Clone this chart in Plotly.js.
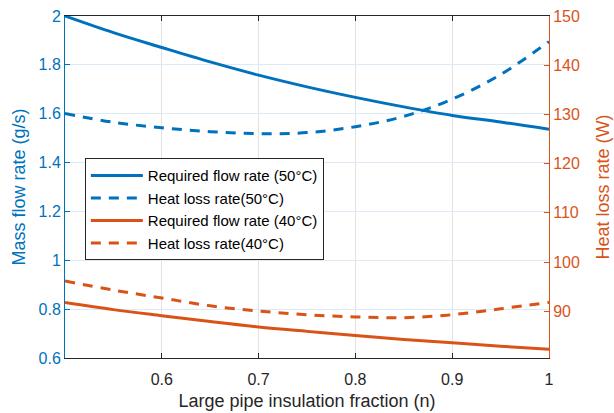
<!DOCTYPE html>
<html>
<head>
<meta charset="utf-8">
<script src="https://cdn.plot.ly/plotly-3.0.1.min.js"></script>
<style>html,body{margin:0;padding:0;background:#fff;}#chart{width:614px;height:413px;}</style>
</head>
<body>
<div id="chart"></div>
<script>
// Large pipe insulation fraction n
const fraction = [0.5, 0.55, 0.6, 0.65, 0.7, 0.75, 0.8, 0.85, 0.9, 0.95, 1.0];
// Required flow rate (g/s), left axis
const flow50 = [2.0, 1.932, 1.871, 1.812, 1.758, 1.710, 1.667, 1.628, 1.593, 1.566, 1.536];
const flow40 = [0.827, 0.798, 0.773, 0.749, 0.727, 0.709, 0.692, 0.676, 0.662, 0.648, 0.636];
// Heat loss rate (W), right axis
const heat50 = [130.2, 128.4, 127.3, 126.5, 126.1, 126.3, 127.5, 129.6, 133.1, 138.1, 144.8];
const heat40 = [96.15, 94.3, 92.7, 91.1, 90.05, 89.3, 88.85, 88.7, 89.3, 90.5, 91.8];
const seriesNames = ["Required flow rate (50°C)", "Heat loss rate(50°C)", "Required flow rate (40°C)", "Heat loss rate(40°C)"];
const xTicks = [0.6, 0.7, 0.8, 0.9, 1];
const xTickText = ["0.6", "0.7", "0.8", "0.9", "1"];
const rightTicks = [90, 100, 110, 120, 130, 140, 150];

const BLUE = "#0072BD", ORANGE = "#D95319", DARK = "#262626";
const FONT = "Liberation Sans, Arial, sans-serif";

const traces = [
  {x: fraction, y: flow50, name: seriesNames[0], yaxis: "y", mode: "lines",
   line: {color: BLUE, width: 3, shape: "spline"}},
  {x: fraction, y: heat50, name: seriesNames[1], yaxis: "y2", mode: "lines",
   line: {color: BLUE, width: 3, dash: "10px,8px", shape: "spline"}},
  {x: fraction, y: flow40, name: seriesNames[2], yaxis: "y", mode: "lines",
   line: {color: ORANGE, width: 3, shape: "spline"}},
  {x: fraction, y: heat40, name: seriesNames[3], yaxis: "y2", mode: "lines",
   line: {color: ORANGE, width: 3, dash: "10px,8px", shape: "spline"}}
];

const layout = {
  width: 614, height: 413,
  margin: {l: 65, r: 65, t: 16, b: 55},
  paper_bgcolor: "#fff", plot_bgcolor: "#fff",
  font: {family: FONT, size: 16, color: DARK},
  showlegend: true,
  legend: {x: 0.041, y: 0.584, xanchor: "left", yanchor: "top",
    bgcolor: "#fff", bordercolor: DARK, borderwidth: 1,
    font: {family: FONT, size: 15, color: "#000"}, itemwidth: 52, tracegroupgap: 0},
  xaxis: {range: [0.5, 1], tickvals: xTicks, ticktext: xTickText,
    showline: true, linecolor: DARK, linewidth: 1, mirror: "ticks",
    ticks: "inside", ticklen: 5, tickcolor: DARK, ticklabelstandoff: 7,
    showgrid: true, gridcolor: "#e2e2e2", zeroline: false,
    tickfont: {family: FONT, size: 16, color: DARK},
    title: {text: "Large pipe insulation fraction (n)", font: {family: FONT, size: 18, color: DARK}, standoff: 7}},
  yaxis: {range: [0.6, 2], dtick: 0.2, tick0: 0.6,
    showline: true, linecolor: BLUE, linewidth: 1,
    ticks: "inside", ticklen: 5, tickcolor: BLUE,
    showgrid: true, gridcolor: "#dde9f4", zeroline: false,
    tickfont: {family: FONT, size: 16, color: BLUE},
    title: {text: "Mass flow rate (g/s)", font: {family: FONT, size: 18, color: BLUE}, standoff: 8}},
  yaxis2: {range: [80.5, 150], tickvals: rightTicks, overlaying: "y", side: "right",
    showline: true, linecolor: ORANGE, linewidth: 1,
    ticks: "inside", ticklen: 5, tickcolor: ORANGE,
    showgrid: false, zeroline: false,
    tickfont: {family: FONT, size: 16, color: ORANGE},
    title: {text: "Heat loss rate (W)", font: {family: FONT, size: 18, color: ORANGE}, standoff: 17}}
};

Plotly.newPlot("chart", traces, layout, {displayModeBar: false, staticPlot: true});
</script>
</body>
</html>
